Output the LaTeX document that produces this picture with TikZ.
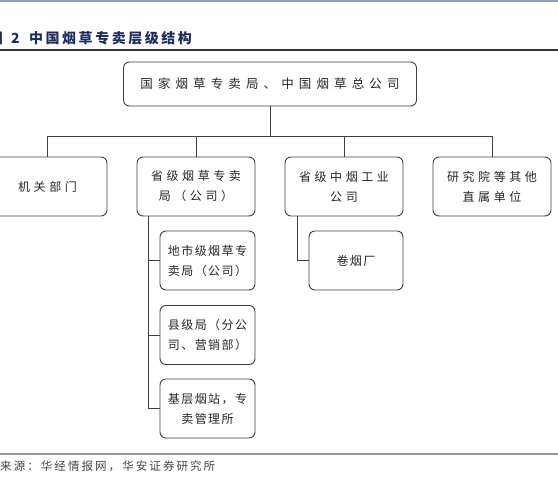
\documentclass[tikz,border=0pt]{standalone}
\usepackage{fontspec}
\setmainfont{Noto Sans CJK SC}
\newfontfamily\cjktop{Noto Sans CJK SC}[LetterSpace=41]
\newfontfamily\cjkmid{Noto Sans CJK SC}[LetterSpace=30]
\newfontfamily\cjksub{Noto Sans CJK SC}[LetterSpace=12]
\newfontfamily\cjksrc{Noto Sans CJK SC}[LetterSpace=18]
\newfontfamily\cjktitle{Noto Sans CJK SC}[LetterSpace=18]
\definecolor{boxline}{HTML}{404040}
\definecolor{txt}{HTML}{262626}
\definecolor{navy}{HTML}{1B2F5C}
\definecolor{topline}{HTML}{8E9DBE}
\definecolor{srcgrey}{HTML}{444444}
\tikzset{
  box/.style={draw=boxline, line width=0.9pt, rounded corners=6pt, fill=white,
    text=txt, align=center, inner sep=0pt},
  topbox/.style={box, minimum width=293pt, minimum height=44pt, font=\cjktop\fontsize{12.5}{20}\selectfont},
  midbox/.style={box, minimum width=118pt, minimum height=59pt, font=\cjkmid\fontsize{12}{20}\selectfont},
  subbox/.style={box, minimum width=95pt, minimum height=59pt, font=\cjksub\fontsize{12}{20}\selectfont},
  conn/.style={draw=boxline, line width=0.9pt},
  titletext/.style={inner sep=0pt, text=navy, font=\cjktitle\bfseries\fontsize{14}{16}\selectfont},
}
\begin{document}
\begin{tikzpicture}[x=1pt,y=-1pt]
\useasboundingbox (0,0) rectangle (558,489);
% header
\draw[topline, line width=2pt] (0,1) -- (558,1);
\node[titletext, anchor=east] (fig) at (3,38) {图};
\node[titletext, anchor=west] (num) at (11,38) {2};
\node[titletext, anchor=west] (title) at (29,38) {中国烟草专卖层级结构};
\draw[draw=black!80, line width=1.4pt] (0,50) -- (558,50);

% boxes
\node[topbox] (top) at (270,84) {国家烟草专卖局、中国烟草总公司};
\node[midbox, minimum width=119pt] (jg) at (47.5,186.5) {机关部门};
\node[midbox] (sj) at (196,186.5) {省级烟草专卖\\局（公司）};
\node[midbox] (zy) at (344,186.5) {省级中烟工业\\公司};
\node[midbox] (yjy) at (492,186.5) {研究院等其他\\直属单位};
\node[subbox] (ds) at (207.5,260.5) {地市级烟草专\\卖局（公司）};
\node[subbox] (xj) at (207.5,335) {县级局（分公\\司、营销部）};
\node[subbox] (jc) at (207.5,408.5) {基层烟站，专\\卖管理所};
\node[subbox, minimum width=94pt] (jyc) at (356,260.5) {卷烟厂};

% connectors
\coordinate (bus) at (270,136);
\draw[conn] (top.south) -- (top.south |- bus);
\draw[conn] (jg.north) |- (yjy.north |- bus) -- (yjy.north);
\draw[conn] (sj.north |- bus) -- (sj.north);
\draw[conn] (zy.north |- bus) -- (zy.north);
\coordinate (sjx) at (148,216);
\draw[conn] (sj.south -| sjx) |- (jc.west);
\draw[conn] (sj.south -| sjx) |- (ds.west);
\draw[conn] (sj.south -| sjx) |- (xj.west);
\coordinate (zyx) at (297,216);
\draw[conn] (zy.south -| zyx) |- (jyc.west);

% footer
\draw[draw=black!40, line width=2pt] (0,454) -- (558,454);
\node[anchor=west, inner sep=0pt, text=srcgrey, font=\cjksrc\fontsize{11.5}{14}\selectfont] (src) at (0,466) {来源：华经情报网，华安证券研究所};
\end{tikzpicture}
\end{document}
